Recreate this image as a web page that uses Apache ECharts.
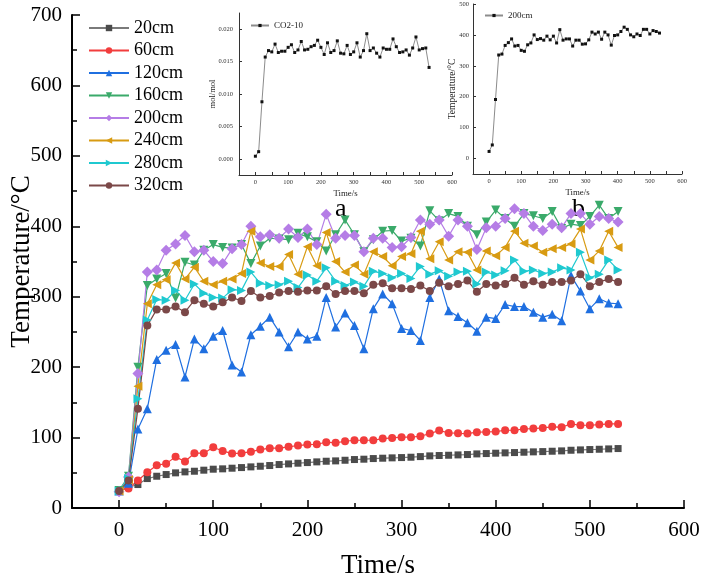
<!DOCTYPE html>
<html>
<head>
<meta charset="utf-8">
<script src="https://cdn.jsdelivr.net/npm/echarts@6/dist/echarts.min.js"></script>
<style>
  html, body { margin: 0; padding: 0; background: #fff; }
  #main { width: 701px; height: 577px; }
</style>
</head>
<body>
<div id="main"></div>
<script>
// sampling times (s)
var time = [0, 10, 20, 30, 40, 50, 60, 70, 80, 90, 100, 110, 120, 130, 140, 150, 160, 170, 180, 190,
  200, 210, 220, 230, 240, 250, 260, 270, 280, 290, 300, 310, 320, 330, 340, 350, 360, 370, 380, 390,
  400, 410, 420, 430, 440, 450, 460, 470, 480, 490, 500, 510, 520, 530];

// temperature (°C) at each depth
var t20 = [24.8, 29.5, 33.3, 41.8, 45.1, 47.5, 49.9, 51.3, 52.2, 53.7, 55.1, 55.6, 56.5, 57.4, 58.4, 59.3, 60.3, 61.7,
  62.6, 63.6, 64.5, 65.5, 66.4, 66.9, 67.8, 68.8, 69.3, 70.2, 70.7, 71.2, 71.6, 72.1, 73, 74, 74.5, 74.9, 75.4, 75.9,
  76.8, 77.3, 77.8, 78.3, 78.7, 79.2, 79.7, 80.1, 80.6, 81.1, 82, 82.5, 83, 83.4, 83.9, 84.4];
var t60 = [24.8, 27.7, 39, 50.8, 60.7, 63, 72.6, 66, 77.8, 77.8, 86.3, 81, 77.3, 77.8, 80, 83, 85, 85, 86.8, 88.7,
  90, 90.5, 93.4, 92.5, 94.8, 96.2, 96.2, 96.2, 98.6, 99.5, 100.5, 100.5, 101.9, 105.7, 110, 106.6, 106.1, 105.7,
  107.6, 108, 108.5, 110.4, 110.4, 112.3, 112.8, 113.7, 115.2, 114.7, 119.4, 117.5, 117.5, 118.4, 119.4, 119.4];
var t120 = [24, 35, 112, 141, 211, 224, 232, 186, 240, 226, 244, 252, 203, 193, 246, 258, 271, 250, 229, 250,
  240, 244, 299, 257, 277, 259, 226, 283, 304, 290, 255, 252, 238, 299, 325, 280, 272, 263, 251, 271,
  269, 289, 286, 286, 278, 271, 275, 266, 330, 308, 283, 297, 291, 290];
var t160 = [25, 45, 200, 316, 325, 333, 298, 349, 345, 366, 374, 370, 369, 374, 347, 372, 383, 382, 381, 390,
  385, 378, 365, 388, 409, 388, 364, 381, 393, 394, 379, 383, 372, 422, 408, 418, 414, 400, 388, 406,
  423, 411, 400, 418, 415, 411, 421, 397, 403, 401, 414, 430, 411, 421];
var t200 = [23, 44, 191, 335, 338, 366, 375, 387, 364, 366, 350, 347, 368, 374, 400, 385, 388, 383, 396, 384,
  396, 374, 417, 383, 387, 387, 364, 383, 383, 370, 371, 384, 409, 403, 409, 386, 409, 400, 367, 398,
  400, 411, 425, 418, 400, 394, 403, 398, 418, 418, 403, 414, 411, 406];
var t240 = [24, 40, 173, 290, 317, 324, 348, 325, 342, 322, 317, 322, 325, 333, 393, 348, 343, 343, 360, 332,
  371, 344, 391, 350, 335, 345, 332, 364, 357, 344, 357, 361, 393, 354, 378, 352, 364, 363, 338, 365,
  358, 370, 393, 376, 372, 363, 368, 370, 375, 396, 352, 365, 393, 370];
var t280 = [24, 42, 155, 267, 296, 295, 309, 295, 318, 305, 299, 298, 310, 309, 335, 319, 316, 317, 322, 313,
  331, 322, 341, 322, 316, 321, 315, 336, 333, 327, 333, 326, 343, 332, 337, 329, 335, 336, 318, 335,
  331, 337, 352, 336, 338, 333, 335, 341, 338, 363, 327, 332, 352, 338];
var t320 = [24, 39, 141, 259, 282, 282, 286, 278, 295, 290, 286, 292, 299, 294, 308, 299, 301, 306, 308, 307,
  309, 309, 315, 304, 308, 308, 305, 317, 319, 312, 312, 311, 316, 308, 320, 315, 318, 323, 307, 318,
  316, 318, 327, 317, 322, 317, 321, 321, 323, 332, 315, 321, 325, 321];

// CO2 concentration (mol/mol)
var co2 = [0.0004, 0.0011, 0.0088, 0.0157, 0.0167, 0.0165, 0.0177, 0.0164, 0.0166, 0.0166, 0.0172, 0.0176,
  0.0164, 0.0168, 0.0181, 0.0168, 0.0169, 0.0173, 0.0175, 0.0183, 0.0172, 0.0161, 0.0179, 0.0164, 0.0167,
  0.0182, 0.0163, 0.0162, 0.0175, 0.0161, 0.0165, 0.0179, 0.0157, 0.0167, 0.0193, 0.0167, 0.0171, 0.0163,
  0.0157, 0.0171, 0.0169, 0.0169, 0.0185, 0.0173, 0.0164, 0.0165, 0.0168, 0.0160, 0.0171, 0.0188, 0.0168,
  0.0170, 0.0171, 0.0141];

var depthNames = ['20cm', '60cm', '120cm', '160cm', '200cm', '240cm', '280cm', '320cm'];
var depthValues = [t20, t60, t120, t160, t200, t240, t280, t320];

// tick values
var xTicksMajor = [0, 100, 200, 300, 400, 500, 600];
var xTicksMinor = [50, 150, 250, 350, 450, 550];
var xTicksAll = [0, 50, 100, 150, 200, 250, 300, 350, 400, 450, 500, 550, 600];
var co2Ticks = [0, 0.005, 0.01, 0.015, 0.02];
var insetTempTicks = [0, 100, 200, 300, 400, 500];

var serif = "'Liberation Serif', 'Times New Roman', serif";

var styles = [
  { color: '#4b4b4b', line: '#7a7a7a', symbol: 'rect', size: 7, rotate: 0 },
  { color: '#f23d3d', line: '#f23d3d', symbol: 'circle', size: 8, rotate: 0 },
  { color: '#1f6fe0', line: '#1f6fe0', symbol: 'triangle', size: 9, rotate: 0 },
  { color: '#3aaa6a', line: '#3aaa6a', symbol: 'triangle', size: 9, rotate: 180 },
  { color: '#b57de6', line: '#b57de6', symbol: 'diamond', size: 11, rotate: 0 },
  { color: '#d89b12', line: '#d89b12', symbol: 'triangle', size: 9, rotate: 90 },
  { color: '#1fc9d0', line: '#1fc9d0', symbol: 'triangle', size: 9, rotate: -90 },
  { color: '#7b4848', line: '#7b4848', symbol: 'circle', size: 8, rotate: 0 }
];

function pairs(vals) {
  return time.map(function (t, i) { return [t, vals[i]]; });
}

var chart = echarts.init(document.getElementById('main'));

var series = depthNames.map(function (name, i) {
  var s = styles[i];
  return {
    name: name,
    type: 'line',
    xAxisIndex: 0,
    yAxisIndex: 0,
    data: pairs(depthValues[i]),
    symbol: s.symbol,
    symbolSize: s.size,
    symbolRotate: s.rotate,
    showAllSymbol: true,
    itemStyle: { color: s.color },
    lineStyle: { color: s.line, width: 1.2 }
  };
});

series.push({
  name: 'CO2-10',
  type: 'line',
  xAxisIndex: 2,
  yAxisIndex: 1,
  data: pairs(co2),
  symbol: 'rect',
  symbolSize: 3,
  itemStyle: { color: '#111' },
  lineStyle: { color: '#8c8c8c', width: 1 }
});
series.push({
  name: 'inset200',
  type: 'line',
  xAxisIndex: 3,
  yAxisIndex: 2,
  data: pairs(t200),
  symbol: 'rect',
  symbolSize: 3,
  itemStyle: { color: '#111' },
  lineStyle: { color: '#8c8c8c', width: 1 }
});

var insetLabel = { fontSize: 6.5, color: '#333', fontFamily: serif };

var option = {
  animation: false,
  backgroundColor: '#fff',
  textStyle: { fontFamily: serif },
  grid: [
    { left: 72, right: 17, top: 15, bottom: 69, outerBoundsMode: 'none', containLabel: false },
    { left: 239, top: 13, width: 213, height: 162, outerBoundsMode: 'none', containLabel: false },
    { left: 473, top: 4, width: 209, height: 170, outerBoundsMode: 'none', containLabel: false }
  ],
  legend: [
    {
      data: depthNames,
      orient: 'vertical',
      left: 83,
      top: 14,
      itemWidth: 40,
      itemHeight: 8,
      itemGap: 4.5,
      textStyle: { fontSize: 18, color: '#000', fontFamily: serif }
    },
    {
      data: ['CO2-10'],
      left: 245,
      top: 16,
      itemWidth: 18,
      itemHeight: 4,
      textStyle: { fontSize: 9, color: '#222', fontFamily: serif }
    },
    {
      data: ['inset200'],
      formatter: function () { return '200cm'; },
      left: 479,
      top: 6,
      itemWidth: 18,
      itemHeight: 4,
      textStyle: { fontSize: 9, color: '#222', fontFamily: serif }
    }
  ],
  xAxis: [
    {
      type: 'value', gridIndex: 0, min: -50, max: 600, position: 'bottom',
      name: 'Time/s', nameLocation: 'middle', nameGap: 44, nameMoveOverlap: false,
      nameTextStyle: { fontSize: 27, color: '#000', fontFamily: serif },
      axisLine: { onZero: false, lineStyle: { color: '#000', width: 2 } },
      axisTick: { inside: true, length: 8, customValues: xTicksMajor, lineStyle: { color: '#000', width: 1.5 } },
      axisLabel: { customValues: xTicksMajor, fontSize: 21, color: '#000', margin: 12, fontFamily: serif },
      splitLine: { show: false }
    },
    {
      type: 'value', gridIndex: 0, min: -50, max: 600, position: 'bottom',
      axisLine: { show: false, onZero: false },
      axisTick: { inside: true, length: 5, customValues: xTicksMinor, lineStyle: { color: '#000', width: 1.5 } },
      axisLabel: { show: false },
      splitLine: { show: false }
    },
    {
      type: 'value', gridIndex: 1, min: -50, max: 600,
      name: 'Time/s', nameLocation: 'middle', nameGap: 14, nameMoveOverlap: false,
      nameTextStyle: { fontSize: 8.8, color: '#222', fontFamily: serif },
      axisLine: { onZero: false, lineStyle: { color: '#333', width: 1 } },
      axisTick: { inside: true, length: 3, customValues: xTicksAll, lineStyle: { color: '#333' } },
      axisLabel: Object.assign({ customValues: xTicksMajor, margin: 4 }, insetLabel),
      splitLine: { show: false }
    },
    {
      type: 'value', gridIndex: 2, min: -50, max: 600,
      name: 'Time/s', nameLocation: 'middle', nameGap: 14, nameMoveOverlap: false,
      nameTextStyle: { fontSize: 8.8, color: '#222', fontFamily: serif },
      axisLine: { onZero: false, lineStyle: { color: '#333', width: 1 } },
      axisTick: { inside: true, length: 3, customValues: xTicksAll, lineStyle: { color: '#333' } },
      axisLabel: Object.assign({ customValues: xTicksMajor, margin: 4 }, insetLabel),
      splitLine: { show: false }
    }
  ],
  yAxis: [
    {
      type: 'value', gridIndex: 0, min: 0, max: 700, interval: 100,
      name: 'Temperature/°C', nameLocation: 'middle', nameGap: 37, nameMoveOverlap: false,
      nameTextStyle: { fontSize: 27, color: '#000', fontFamily: serif },
      axisLine: { show: true, onZero: false, lineStyle: { color: '#000', width: 2 } },
      axisTick: { show: true, inside: true, length: 8, lineStyle: { color: '#000', width: 1.5 } },
      minorTick: { show: true, splitNumber: 2, length: 5, lineStyle: { color: '#000', width: 1.5 } },
      axisLabel: { fontSize: 21, color: '#000', margin: 10, fontFamily: serif },
      splitLine: { show: false }
    },
    {
      type: 'value', gridIndex: 1, min: -0.0025, max: 0.0225,
      name: 'mol/mol', nameLocation: 'middle', nameGap: 22, nameMoveOverlap: false,
      nameTextStyle: { fontSize: 8.5, color: '#222', fontFamily: serif },
      axisLine: { show: true, onZero: false, lineStyle: { color: '#333', width: 1 } },
      axisTick: { show: true, inside: true, length: 3, customValues: co2Ticks, lineStyle: { color: '#333' } },
      axisLabel: Object.assign({
        customValues: co2Ticks, margin: 6,
        formatter: function (v) { return v.toFixed(3); }
      }, insetLabel),
      splitLine: { show: false }
    },
    {
      type: 'value', gridIndex: 2, min: -50, max: 500,
      name: 'Temperature/°C', nameLocation: 'middle', nameGap: 16, nameMoveOverlap: false,
      nameTextStyle: { fontSize: 9.5, color: '#222', fontFamily: serif },
      axisLine: { show: true, onZero: false, lineStyle: { color: '#333', width: 1 } },
      axisTick: { show: true, inside: true, length: 3, customValues: insetTempTicks, lineStyle: { color: '#333' } },
      axisLabel: Object.assign({ customValues: insetTempTicks, margin: 4 }, insetLabel),
      splitLine: { show: false }
    }
  ],
  graphic: [
    { type: 'text', left: 335, top: 196, style: { text: 'a', font: '26px ' + serif, fill: '#000' } },
    { type: 'text', left: 572, top: 196, style: { text: 'b', font: '26px ' + serif, fill: '#000' } }
  ],
  series: series
};

chart.setOption(option);
</script>
</body>
</html>
